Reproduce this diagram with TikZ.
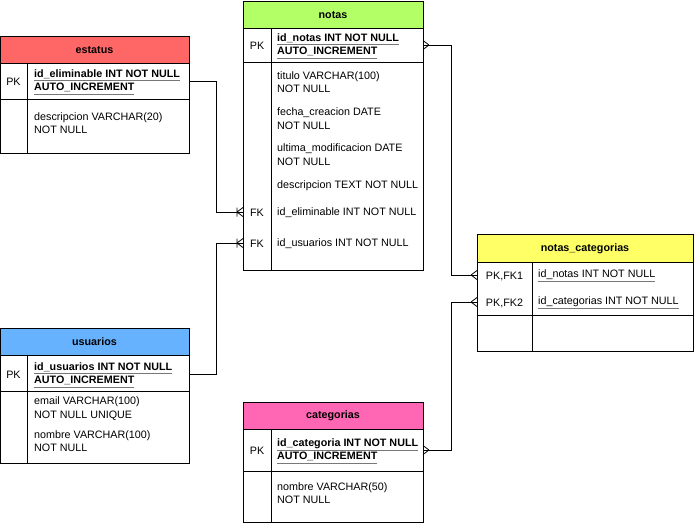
\documentclass[tikz,border=0pt]{standalone}
\usepackage{fontspec}
\setmainfont{Liberation Sans}
\definecolor{cRed}{HTML}{FF6666}
\definecolor{cGreen}{HTML}{B3FF66}
\definecolor{cBlue}{HTML}{66B2FF}
\definecolor{cPink}{HTML}{FF66B3}
\definecolor{cYellow}{HTML}{FFFF66}
\definecolor{cLine}{HTML}{000000}
\definecolor{cUl}{HTML}{777777}
\newcommand{\grayul}[1]{{\color{cUl}\underline{\textcolor{black}{#1}}}}
\begin{document}
\begin{tikzpicture}[x=1pt,y=-1pt,
  every node/.style={inner sep=0pt, font=\fontsize{10.75}{13.5}\selectfont},
  frame/.style={draw=cLine, line width=0.8pt},
  hdrtxt/.style={font=\fontsize{10.75}{13.5}\selectfont\bfseries},
  fld/.style={anchor=west, align=left},
  key/.style={anchor=center},
  conn/.style={draw=cLine, line width=0.8pt},
  pics/crowL/.style={code={\draw[conn] (-6,0) -- (0,-4.5) (-6,0) -- (0,4.5);}},
  pics/crowR/.style={code={\draw[conn] (6,0) -- (0,-4.5) (6,0) -- (0,4.5);}},
  pics/onemanyL/.style={code={\draw[conn] (-6,0) -- (0,-4.5) (-6,0) -- (0,4.5) (-6,-4.5) -- (-6,4.5);}}
]
\useasboundingbox (0,0) rectangle (694,523);

% ---------- estatus ----------
\fill[cRed] (0,36) rectangle (189,63);
\draw[frame] (0,36) rectangle (189,153);
\draw[frame] (0,63) -- (189,63) (0,99) -- (189,99) (27,63) -- (27,153);
\node[hdrtxt] (estatusT) at (94.5,50) {estatus};
\node[key] (estatusPK) at (13.5,82) {PK};
\node[fld] (estatusId) at (34,82) {\textbf{\grayul{id\_eliminable INT NOT NULL}}\\\textbf{\grayul{AUTO\_INCREMENT}}};
\node[fld] (estatusDesc) at (34,123) {descripcion VARCHAR(20)\\NOT NULL};
\coordinate (estatusE) at (189,81);

% ---------- notas ----------
\fill[cGreen] (243,1) rectangle (423,28);
\draw[frame] (243,1) rectangle (423,270);
\draw[frame] (243,28) -- (423,28) (243,62) -- (423,62) (271,28) -- (271,270);
\node[hdrtxt] (notasT) at (333,15) {notas};
\node[key] (notasPK) at (257,46) {PK};
\node[fld] (notasId) at (277,46) {\textbf{\grayul{id\_notas INT NOT NULL}}\\\textbf{\grayul{AUTO\_INCREMENT}}};
\node[fld] (notasTit) at (277,82) {titulo VARCHAR(100)\\NOT NULL};
\node[fld] (notasFec) at (277,118.5) {fecha\_creacion DATE\\NOT NULL};
\node[fld] (notasUlt) at (277,154.5) {ultima\_modificacion DATE\\NOT NULL};
\node[fld] (notasDesc) at (277,186) {descripcion TEXT NOT NULL};
\node[key] (notasFK1) at (257,213) {FK};
\node[fld] (notasElim) at (277,213) {id\_eliminable INT NOT NULL};
\node[key] (notasFK2) at (257,244) {FK};
\node[fld] (notasUsu) at (277,244) {id\_usuarios INT NOT NULL};
\coordinate (notasE) at (423,45);
\coordinate (notasW1) at (243,212);
\coordinate (notasW2) at (243,243);

% ---------- usuarios ----------
\fill[cBlue] (0,328) rectangle (189,355);
\draw[frame] (0,328) rectangle (189,463);
\draw[frame] (0,355) -- (189,355) (0,391) -- (189,391) (27,355) -- (27,463);
\node[hdrtxt] (usuariosT) at (94.5,342) {usuarios};
\node[key] (usuariosPK) at (13.5,375) {PK};
\node[fld] (usuariosId) at (34,375) {\textbf{\grayul{id\_usuarios INT NOT NULL}}\\\textbf{\grayul{AUTO\_INCREMENT}}};
\node[fld] (usuariosEm) at (34,408.5) {email VARCHAR(100)\\NOT NULL UNIQUE};
\node[fld] (usuariosNom) at (34,441) {nombre VARCHAR(100)\\NOT NULL};
\coordinate (usuariosE) at (189,374);

% ---------- categorias ----------
\fill[cPink] (243,402) rectangle (423,429);
\draw[frame] (243,402) rectangle (423,522);
\draw[frame] (243,429) -- (423,429) (243,471) -- (423,471) (271,429) -- (271,522);
\node[hdrtxt] (categoriasT) at (333,416) {categorias};
\node[key] (categoriasPK) at (257,451) {PK};
\node[fld] (categoriasId) at (277,451) {\textbf{\grayul{id\_categoria INT NOT NULL}}\\\textbf{\grayul{AUTO\_INCREMENT}}};
\node[fld] (categoriasNom) at (277,493) {nombre VARCHAR(50)\\NOT NULL};
\coordinate (categoriasE) at (423,450);

% ---------- notas_categorias ----------
\fill[cYellow] (477,234) rectangle (693,262);
\draw[frame] (477,234) rectangle (693,351);
\draw[frame] (477,262) -- (693,262) (477,315) -- (693,315) (532,262) -- (532,351);
\node[hdrtxt] (ncT) at (585,248.5) {notas\_categorias};
\node[key] (ncK1) at (504.5,276) {PK,FK1};
\node[fld] (ncF1) at (538,276) {\grayul{id\_notas INT NOT NULL}};
\node[key] (ncK2) at (504.5,303) {PK,FK2};
\node[fld] (ncF2) at (538,303) {\grayul{id\_categorias INT NOT NULL}};
\coordinate (ncW1) at (477,275);
\coordinate (ncW2) at (477,302);

% ---------- connectors ----------
\draw[conn] (estatusE) -- (216,81) |- (notasW1);
\pic at (notasW1) {onemanyL};
\draw[conn] (usuariosE) -- (216,374) |- (notasW2);
\pic at (notasW2) {onemanyL};
\draw[conn] (notasE) -- (451,45) |- (ncW1);
\pic at (notasE) {crowR};
\pic at (ncW1) {crowL};
\draw[conn] (categoriasE) -- (451,450) |- (ncW2);
\pic at (categoriasE) {crowR};
\pic at (ncW2) {crowL};
\end{tikzpicture}
\end{document}
